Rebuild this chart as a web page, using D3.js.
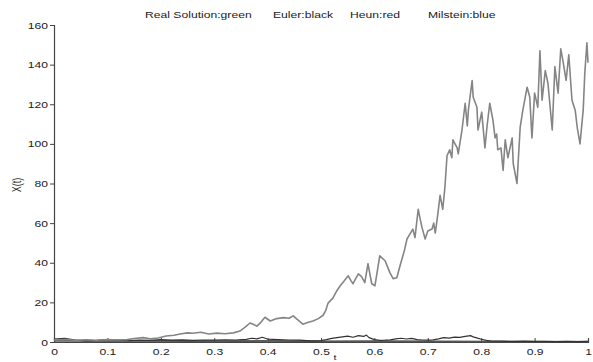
<!DOCTYPE html>
<html>
<head>
<meta charset="utf-8">
<script src="https://cdn.jsdelivr.net/npm/d3@7"></script>
<style>
  html, body { margin: 0; padding: 0; background: #fff; }
  svg { display: block; font-family: "Liberation Sans", Arial, sans-serif; }
</style>
</head>
<body>
<svg id="chart" width="593" height="362"></svg>
<script>
// Time grid and path of the exact (real) solution X(t)
const realT = [0,0.02,0.04,0.06,0.08,0.10,0.12,0.137,0.15,0.167,0.18,0.195,0.21,0.225,0.236,0.25,0.26,0.275,0.29,0.305,0.32,0.336,0.348,0.358,0.367,0.373,0.38,0.386,0.395,0.405,0.417,0.43,0.44,0.448,0.455,0.466,0.475,0.485,0.495,0.504,0.509,0.513,0.518,0.522,0.53,0.536,0.544,0.551,0.556,0.56,0.565,0.57,0.576,0.582,0.588,0.595,0.601,0.605,0.61,0.62,0.629,0.635,0.642,0.648,0.656,0.661,0.667,0.672,0.676,0.682,0.685,0.689,0.695,0.70,0.708,0.711,0.714,0.719,0.723,0.728,0.732,0.736,0.741,0.745,0.747,0.755,0.757,0.764,0.77,0.774,0.776,0.783,0.785,0.792,0.794,0.801,0.807,0.811,0.816,0.822,0.826,0.829,0.831,0.837,0.841,0.845,0.850,0.858,0.86,0.867,0.873,0.878,0.886,0.891,0.895,0.9,0.906,0.91,0.914,0.92,0.925,0.933,0.938,0.944,0.949,0.953,0.959,0.964,0.97,0.976,0.98,0.985,0.991,0.994,0.998,1.0];
const realX = [1.0,1.3,0.8,1.1,0.9,1.2,1.0,1.2,1.8,2.2,1.6,2.0,3.0,3.4,4.0,4.6,4.4,4.9,4.0,4.5,4.2,4.6,5.5,7.5,9.6,9.0,8.0,9.5,12.5,10.6,11.8,12.3,12.0,13.2,11.5,9.0,9.8,10.6,11.8,13.5,16,19.5,21,22,26,28.4,31,33.4,31,29.4,32,34.4,33,30,39.5,29.4,28.4,35,43.5,41,35,32,32.4,38.5,46,52,54.7,57,52.7,67,63,58,52,56,57,60,55,65,74,67,78,94,97,93,102,98,95,107,120.5,109,117,132,123.5,118.5,107,116,98,109,120.5,112,103,105,97,98,86.6,102,93,103,90,80,108.4,117,128.6,123.5,103,125.6,118.5,147,122,137,130.6,107,139,125.6,148,142,132,145,122,117,108,100,117,135.7,151,141];

// Euler–Maruyama approximation
const eulerT = [0,0.02,0.04,0.06,0.08,0.10,0.12,0.14,0.16,0.18,0.20,0.22,0.24,0.26,0.28,0.30,0.32,0.34,0.36,0.37,0.38,0.39,0.40,0.42,0.44,0.46,0.48,0.50,0.51,0.52,0.53,0.54,0.55,0.56,0.57,0.58,0.585,0.59,0.60,0.61,0.62,0.63,0.64,0.65,0.66,0.67,0.68,0.69,0.70,0.71,0.72,0.73,0.74,0.75,0.76,0.77,0.78,0.785,0.79,0.80,0.81,0.82,0.84,0.86,0.88,0.90,0.92,0.94,0.96,0.98,1.0];
const eulerX = [1.5,1.8,1.0,0.6,0.8,1.2,0.9,0.7,1.0,0.8,1.2,0.9,1.1,0.8,1.0,0.9,1.1,1.0,1.3,1.9,1.6,2.4,1.5,1.2,1.0,0.9,0.6,0.7,1.2,1.8,2.2,2.6,3.0,2.4,3.2,2.8,3.5,2.2,1.2,0.8,0.9,1.1,1.6,1.9,1.5,1.8,1.2,1.0,0.9,1.1,1.6,2.2,2.0,2.5,2.3,2.8,3.2,2.6,2.2,1.4,0.8,0.5,0.4,0.3,0.4,0.3,0.3,0.2,0.3,0.2,0.3];

// Heun and Milstein approximations
const heunT = [0,0.1,0.2,0.3,0.4,0.5,0.6,0.7,0.8,0.9,1.0];
const heunX = [0.9,0.7,0.8,0.6,0.7,0.5,0.6,0.5,0.4,0.3,0.3];
const milsteinT = [0,0.1,0.2,0.3,0.4,0.5,0.6,0.7,0.8,0.9,1.0];
const milsteinX = [0.4,0.3,0.3,0.2,0.3,0.2,0.2,0.2,0.1,0.1,0.1];

const xTicks = [0,0.1,0.2,0.3,0.4,0.5,0.6,0.7,0.8,0.9,1];
const yTicks = [0,20,40,60,80,100,120,140,160];
const legendItems = ["Real Solution:green", "Euler:black", "Heun:red", "Milstein:blue"];

const svg = d3.select("#chart");
const plotLeft = 54, plotRight = 588, plotTop = 25, plotBottom = 342;
const x = d3.scaleLinear().domain([0, 1]).range([plotLeft, plotRight]);
const y = d3.scaleLinear().domain([0, 160]).range([plotBottom, plotTop]);
const stretch = 1.35;   // wide glyphs
const fs = 9;

// axes
const xAxis = svg.append("g").attr("transform", `translate(0,${plotBottom})`)
  .call(d3.axisBottom(x).tickValues(xTicks).tickSize(-4).tickFormat(d3.format("~g")));
const yAxis = svg.append("g").attr("transform", `translate(${plotLeft},0)`)
  .call(d3.axisLeft(y).tickValues(yTicks).tickSize(4));
[xAxis, yAxis].forEach(g => {
  g.select(".domain").attr("stroke", "#444").attr("stroke-width", 1.2);
  g.selectAll(".tick line").attr("stroke", "#444");
  g.selectAll(".tick text").remove();
});

// tick labels (drawn separately so they can be widened)
xAxis.selectAll(".tick").append("text")
  .attr("transform", `translate(0,12.5) scale(${stretch},1)`)
  .attr("text-anchor", "middle").attr("font-size", fs).attr("fill", "#222")
  .text(d => d3.format("~g")(d));
yAxis.selectAll(".tick").append("text")
  .attr("transform", `translate(-6,3) scale(${stretch},1)`)
  .attr("text-anchor", "end").attr("font-size", fs).attr("fill", "#222")
  .text(d => d);

// series
const line = d3.line().x(d => x(d[0])).y(d => y(d[1]));
const series = [
  { t: milsteinT, v: milsteinX, color: "#555", w: 1 },
  { t: heunT, v: heunX, color: "#444", w: 1 },
  { t: eulerT, v: eulerX, color: "#333", w: 1.2 },
  { t: realT, v: realX, color: "#858585", w: 1.6 }
];
series.forEach(s => {
  svg.append("path")
    .datum(d3.zip(s.t, s.v))
    .attr("fill", "none").attr("stroke", s.color)
    .attr("stroke-width", s.w).attr("stroke-linejoin", "round")
    .attr("d", line);
});

// legend line at the top
const legendX = [145, 273, 350, 428];
legendItems.forEach((txt, i) => {
  svg.append("text")
    .attr("transform", `translate(${legendX[i]},18) scale(${stretch},1)`)
    .attr("font-size", fs).attr("fill", "#222").text(txt);
});

// axis titles
svg.append("text")
  .attr("transform", `translate(21,185) scale(${stretch},1) rotate(-90)`)
  .attr("text-anchor", "middle").attr("font-size", fs).attr("fill", "#222").text("X(t)");
svg.append("text")
  .attr("transform", `translate(${x(0.5) + 14},360) scale(${stretch},1)`)
  .attr("text-anchor", "middle").attr("font-size", 8).attr("fill", "#222").text("t");
</script>
</body>
</html>
